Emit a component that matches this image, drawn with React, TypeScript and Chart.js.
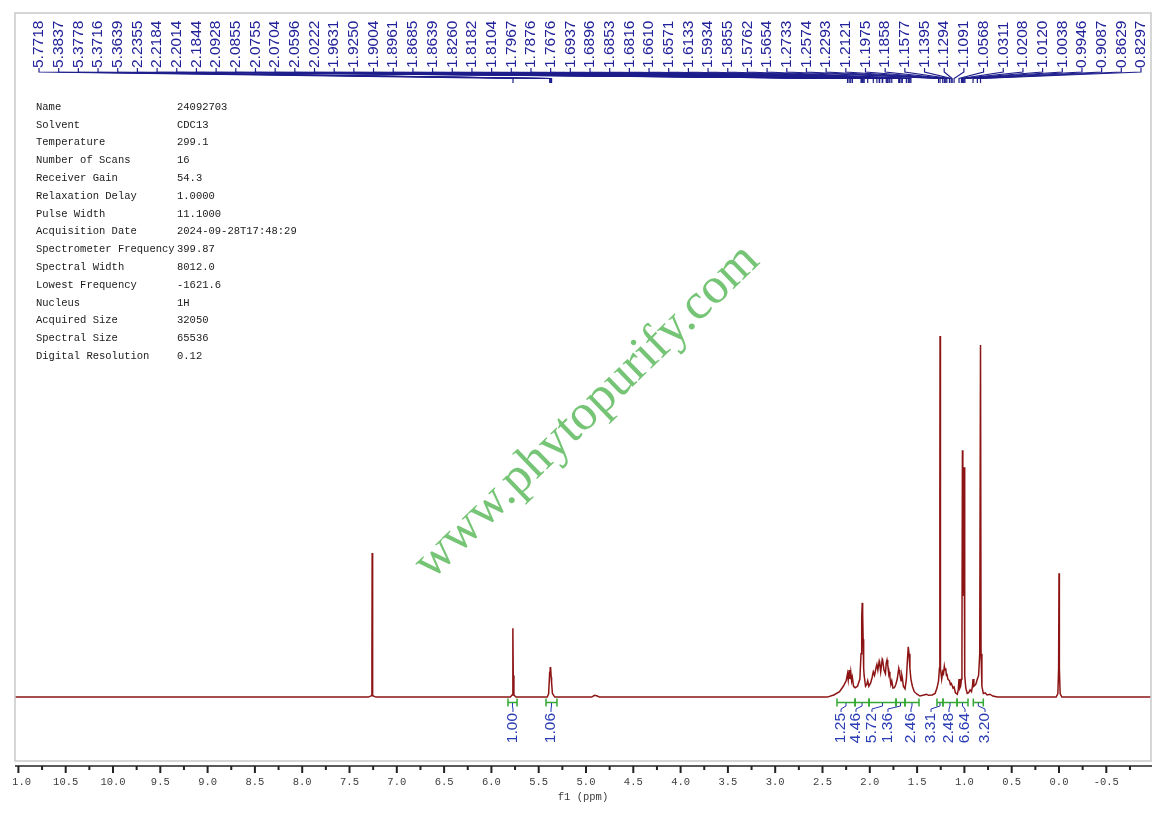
import React, { useEffect, useRef } from 'react';
import { Chart, registerables } from 'chart.js';

Chart.register(...registerables);

// ---- spectrum (ppm, relative intensity; tallest peak = 100) ----
const specPpm = [
  11.04, 7.30, 7.268, 7.263, 7.2605, 7.258, 7.253, 7.22,
  5.80, 5.782, 5.7745, 5.7718, 5.769, 5.762, 5.74,
  5.41, 5.395, 5.3837, 5.381, 5.3778, 5.375, 5.3716, 5.368, 5.3639, 5.355, 5.33,
  4.94, 4.91, 4.88, 4.86,
  2.45, 2.38, 2.32, 2.28, 2.25, 2.2355, 2.228, 2.2184, 2.21, 2.2014, 2.192, 2.1844, 2.172, 2.155, 2.13, 2.105,
  2.0928, 2.0855, 2.080, 2.0755, 2.0704, 2.065, 2.0596, 2.045, 2.032, 2.0222, 2.01, 1.99, 1.975, 1.9631, 1.95,
  1.935, 1.925, 1.915, 1.9004, 1.8961, 1.885, 1.8685, 1.8639, 1.85, 1.835, 1.826, 1.8182, 1.8104, 1.80, 1.7967,
  1.7876, 1.777, 1.7676, 1.755, 1.74, 1.725, 1.71, 1.6937, 1.6896, 1.6853, 1.6816, 1.67, 1.661, 1.6571, 1.645,
  1.628, 1.6133, 1.603, 1.5934, 1.5855, 1.5762, 1.5654, 1.55, 1.53, 1.50, 1.47, 1.44, 1.40, 1.38, 1.34, 1.31,
  1.29, 1.2733, 1.264, 1.2595, 1.2574, 1.2553, 1.251, 1.24, 1.2293, 1.221, 1.2121, 1.205, 1.1975, 1.19, 1.1858,
  1.175, 1.1577, 1.148, 1.1395, 1.1294, 1.12, 1.1091, 1.095, 1.075, 1.065, 1.0568, 1.048, 1.04, 1.0311, 1.026,
  1.0208, 1.0164, 1.012, 1.008, 1.0038, 0.999, 0.9946, 0.985, 0.97, 0.955, 0.94, 0.925, 0.915, 0.9087, 0.90,
  0.88, 0.8629, 0.85, 0.838, 0.8297, 0.824, 0.815, 0.80, 0.78, 0.76, 0.73, 0.70, 0.65,
  0.03, 0.012, 0.004, 0.0, -0.004, -0.012, -0.03, -0.98,
];
const specInt = [
  0, 0, 0.4, 11, 39.9, 11, 0.4, 0,
  0, 0.6, 6, 19.1, 6, 0.6, 0,
  0, 0.9, 7, 6, 8.3, 6.5, 7.8, 5.5, 4, 1, 0,
  0, 0.5, 0.3, 0,
  0, 0.6, 1.5, 3, 4.5, 6.5, 4.8, 7.5, 5, 7, 4.5, 5.5, 3, 2.6, 3, 5,
  12, 22, 26.1, 23, 16, 8, 6, 3, 3.5, 4.5, 3, 4, 5.5, 7, 6,
  8, 9, 7.5, 10, 9.6, 7, 10.5, 10.2, 7.5, 6.5, 9.5, 10.3, 9, 6.5, 7,
  5.5, 3.5, 4.5, 2.5, 2.6, 3.5, 5, 8, 7.5, 7.2, 6.5, 4.5, 6, 5.5, 3,
  2.3, 5, 10, 13.9, 12, 8, 5, 3, 1.5, 0.8, 0.3, 0.5, 0.8, 0.5, 0.6, 1,
  2.5, 4.5, 8, 55, 100, 55, 8, 5, 7, 6.5, 8.6, 7.5, 8, 6, 6.5,
  5, 4.5, 3.5, 3.8, 3.2, 2.5, 2.8, 1.2, 0.8, 2, 5, 2.5, 3, 5, 12,
  68.4, 28, 33, 42, 63.7, 20, 6, 2.5, 1, 1.2, 2, 1.5, 3, 5, 3,
  3.5, 5, 6, 12, 97.5, 12, 3, 1, 1.2, 0.6, 0.8, 0.3, 0,
  0, 1, 8, 34.3, 8, 1, 0, 0,
];

// ---- peak picking labels (top) ----
const peakLabels = [
  '5.7718', '5.3837', '5.3778', '5.3716', '5.3639', '2.2355', '2.2184', '2.2014', '2.1844', '2.0928',
  '2.0855', '2.0755', '2.0704', '2.0596', '2.0222', '1.9631', '1.9250', '1.9004', '1.8961', '1.8685',
  '1.8639', '1.8260', '1.8182', '1.8104', '1.7967', '1.7876', '1.7676', '1.6937', '1.6896', '1.6853',
  '1.6816', '1.6610', '1.6571', '1.6133', '1.5934', '1.5855', '1.5762', '1.5654', '1.2733', '1.2574',
  '1.2293', '1.2121', '1.1975', '1.1858', '1.1577', '1.1395', '1.1294', '1.1091', '1.0568', '1.0311',
  '1.0208', '1.0120', '1.0038', '0.9946', '0.9087', '0.8629', '0.8297',
];

// ---- integrals ----
const integralFrom = [5.825, 5.423, 2.347, 2.156, 2.008, 1.723, 1.628, 1.290, 1.226, 1.078, 0.906];
const integralTo = [5.729, 5.307, 2.156, 2.008, 1.723, 1.628, 1.480, 1.226, 1.078, 0.962, 0.800];
const integralValues = ['1.00', '1.06', '1.25', '4.46', '5.72', '1.36', '2.46', '3.31', '2.48', '6.64', '3.20'];
const integralLabelPpm = [5.772, 5.370, 2.304, 2.146, 1.977, 1.808, 1.565, 1.353, 1.163, 0.994, 0.782];

// ---- x axis ----
const xMajorTicks = [11, 10.5, 10, 9.5, 9, 8.5, 8, 7.5, 7, 6.5, 6, 5.5, 5, 4.5, 4, 3.5, 3, 2.5, 2, 1.5, 1, 0.5, 0, -0.5];
const xTickLabels = ['11.0', '10.5', '10.0', '9.5', '9.0', '8.5', '8.0', '7.5', '7.0', '6.5', '6.0', '5.5', '5.0', '4.5', '4.0', '3.5', '3.0', '2.5', '2.0', '1.5', '1.0', '0.5', '0.0', '-0.5'];
const xMinorTicks = [10.75, 10.25, 9.75, 9.25, 8.75, 8.25, 7.75, 7.25, 6.75, 6.25, 5.75, 5.25, 4.75, 4.25, 3.75, 3.25, 2.75, 2.25, 1.75, 1.25, 0.75, 0.25, -0.25, -0.75];
const xAxisTitle = 'f1 (ppm)';

// ---- parameter table ----
const paramNames = [
  'Name', 'Solvent', 'Temperature', 'Number of Scans', 'Receiver Gain', 'Relaxation Delay', 'Pulse Width',
  'Acquisition Date', 'Spectrometer Frequency', 'Spectral Width', 'Lowest Frequency', 'Nucleus',
  'Acquired Size', 'Spectral Size', 'Digital Resolution',
];
const paramValues = [
  '24092703', 'CDC13', '299.1', '16', '54.3', '1.0000', '11.1000', '2024-09-28T17:48:29', '399.87',
  '8012.0', '-1621.6', '1H', '32050', '65536', '0.12',
];

const watermark = 'www.phytopurify.com';

const overlayPlugin = {
  id: 'nmrOverlay',
  afterDatasetsDraw(chart: any) {
    const ctx: CanvasRenderingContext2D = chart.ctx;
    const xs = chart.scales.x;
    const ca = chart.chartArea;
    ctx.save();

    // frame
    ctx.strokeStyle = '#c9c9c9';
    ctx.lineWidth = 1.5;
    ctx.strokeRect(ca.left, ca.top, ca.right - ca.left, ca.bottom - ca.top);

    // parameter table
    ctx.font = "10.5px 'Liberation Mono', 'DejaVu Sans Mono', monospace";
    ctx.fillStyle = '#1a1a1a';
    ctx.textBaseline = 'middle';
    ctx.textAlign = 'left';
    paramNames.forEach((n, i) => {
      const y = 107 + i * 17.8;
      ctx.fillText(n, 36, y);
      ctx.fillText(paramValues[i], 177, y);
    });

    // watermark
    ctx.save();
    ctx.translate(587, 412);
    ctx.rotate((-44 * Math.PI) / 180);
    ctx.font = "51px 'Liberation Serif', 'DejaVu Serif', serif";
    ctx.fillStyle = 'rgba(80,180,80,0.78)';
    ctx.textAlign = 'center';
    ctx.textBaseline = 'middle';
    ctx.fillText(watermark, 0, 0);
    ctx.restore();

    // top peak labels
    const n = peakLabels.length;
    const x0 = 39, x1 = 1141;
    ctx.strokeStyle = '#1e1e8c';
    ctx.fillStyle = '#22229a';
    ctx.lineWidth = 1.2;
    ctx.font = "15.5px 'Liberation Sans', Arial, sans-serif";
    peakLabels.forEach((lab, i) => {
      const xl = x0 + (i * (x1 - x0)) / (n - 1);
      const xp = xs.getPixelForValue(parseFloat(lab));
      ctx.save();
      ctx.translate(xl, 68);
      ctx.rotate(-Math.PI / 2);
      ctx.textAlign = 'left';
      ctx.textBaseline = 'middle';
      ctx.fillText(lab, 0, 0);
      ctx.restore();
      ctx.beginPath();
      ctx.moveTo(xl, 68);
      ctx.lineTo(xl, 72);
      ctx.lineTo(xp, 78.5);
      ctx.lineTo(xp, 83);
      ctx.stroke();
    });

    // integrals
    integralFrom.forEach((f, i) => {
      const xa = xs.getPixelForValue(f);
      const xb = xs.getPixelForValue(integralTo[i]);
      const xm = (xa + xb) / 2;
      const xl = xs.getPixelForValue(integralLabelPpm[i]);
      ctx.strokeStyle = '#34a834';
      ctx.lineWidth = 1.5;
      ctx.beginPath();
      ctx.moveTo(xa, 702.5);
      ctx.lineTo(xb, 702.5);
      ctx.moveTo(xa, 698.5);
      ctx.lineTo(xa, 706.5);
      ctx.moveTo(xb, 698.5);
      ctx.lineTo(xb, 706.5);
      ctx.stroke();
      ctx.strokeStyle = '#2436b0';
      ctx.lineWidth = 1;
      ctx.beginPath();
      ctx.moveTo(xm, 703);
      ctx.lineTo(xm, 706);
      ctx.lineTo(xl, 709);
      ctx.lineTo(xl, 712);
      ctx.stroke();
      ctx.save();
      ctx.translate(xl, 712);
      ctx.rotate(-Math.PI / 2);
      ctx.font = "15.5px 'Liberation Sans', Arial, sans-serif";
      ctx.fillStyle = '#2a3cb4';
      ctx.textAlign = 'right';
      ctx.textBaseline = 'middle';
      ctx.fillText(integralValues[i], -1, 0);
      ctx.restore();
    });

    // x axis
    const axY = 766;
    ctx.strokeStyle = '#222';
    ctx.lineWidth = 1.6;
    ctx.beginPath();
    ctx.moveTo(ca.left, axY);
    ctx.lineTo(ca.right + 1, axY);
    ctx.stroke();
    ctx.lineWidth = 2;
    ctx.beginPath();
    xMajorTicks.forEach((v) => {
      const x = xs.getPixelForValue(v);
      ctx.moveTo(x, axY);
      ctx.lineTo(x, axY + 7);
    });
    xMinorTicks.forEach((v) => {
      const x = xs.getPixelForValue(v);
      if (x < ca.left || x > ca.right + 1) return;
      ctx.moveTo(x, axY);
      ctx.lineTo(x, axY + 4);
    });
    ctx.stroke();

    ctx.save();
    ctx.beginPath();
    ctx.rect(13, axY + 5, 1160, 40);
    ctx.clip();
    ctx.font = "10.5px 'Liberation Mono', 'DejaVu Sans Mono', monospace";
    ctx.fillStyle = '#3d3d3d';
    ctx.textAlign = 'center';
    ctx.textBaseline = 'middle';
    xMajorTicks.forEach((v, i) => {
      ctx.fillText(xTickLabels[i], xs.getPixelForValue(v), 782);
    });
    ctx.fillText(xAxisTitle, 583, 797);
    ctx.restore();

    ctx.restore();
  },
};

export default function App() {
  const ref = useRef<HTMLCanvasElement | null>(null);
  useEffect(() => {
    if (!ref.current) return;
    const chart = new Chart(ref.current, {
      type: 'line',
      data: {
        datasets: [
          {
            data: specPpm.map((p, i) => ({ x: p, y: specInt[i] })),
            borderColor: '#8c1414',
            borderWidth: 1.5,
            pointRadius: 0,
            tension: 0,
            fill: false,
          },
        ],
      },
      options: {
        animation: false,
        responsive: false,
        maintainAspectRatio: false,
        events: [],
        layout: { padding: { left: 15, right: 14, top: 13, bottom: 52 } },
        plugins: { legend: { display: false }, tooltip: { enabled: false } },
        scales: {
          x: { type: 'linear', reverse: true, min: -0.9725, max: 11.036, display: false },
          y: { type: 'linear', min: -17.7, max: 189.5, display: false },
        },
      },
      plugins: [overlayPlugin],
    });
    return () => chart.destroy();
  }, []);
  return (
    <div style={{ position: 'fixed', left: 0, top: 0, width: 1165, height: 813, background: '#fff' }}>
      <canvas ref={ref} width={1165} height={813} style={{ display: 'block' }} />
    </div>
  );
}
